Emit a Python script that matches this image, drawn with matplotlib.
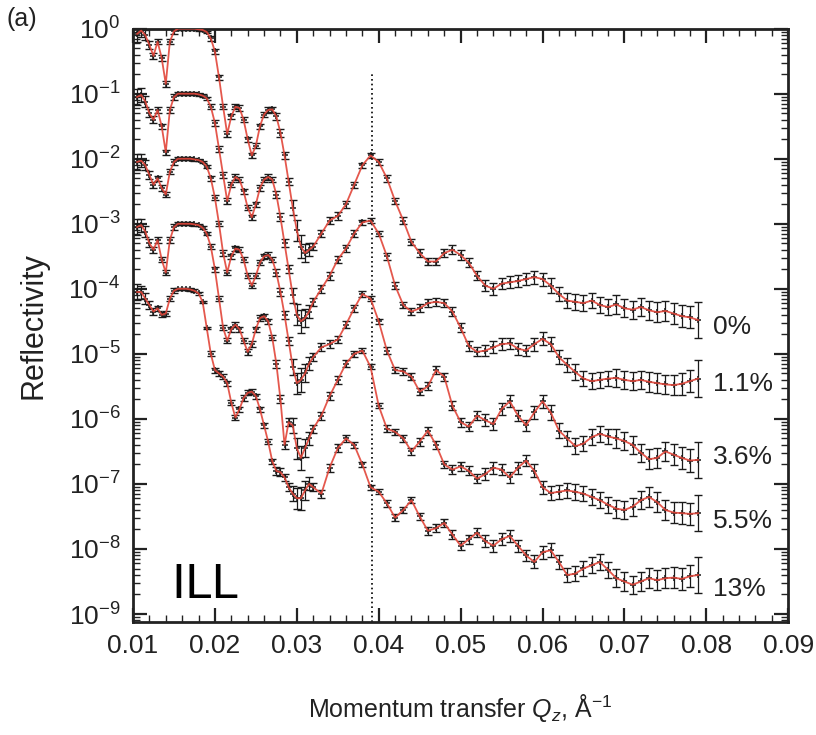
import numpy as np
import matplotlib
matplotlib.use('Agg')
import matplotlib.pyplot as plt
from matplotlib.ticker import LogLocator, MultipleLocator, NullFormatter

# measurement grid (Q_z, 1/Angstrom)
q_low = [0.0105, 0.0110, 0.0115, 0.0120, 0.0125, 0.0130, 0.0135, 0.0140, 0.0145, 0.0150,
         0.0155, 0.0160, 0.0165, 0.0170, 0.0175, 0.0180, 0.0185, 0.0190, 0.0195, 0.0200,
         0.0205, 0.0210, 0.0215, 0.0220, 0.0225, 0.0230, 0.0235, 0.0240, 0.0245, 0.0250,
         0.0255, 0.0260, 0.0265, 0.0270, 0.0275, 0.0280, 0.0285, 0.0290, 0.0295, 0.0300,
         0.0305, 0.0310, 0.0315]
q_high = [0.032, 0.033, 0.034, 0.035, 0.036, 0.037, 0.038, 0.039, 0.040, 0.041,
          0.042, 0.043, 0.044, 0.045, 0.046, 0.047, 0.048, 0.049, 0.050, 0.051,
          0.052, 0.053, 0.054, 0.055, 0.056, 0.057, 0.058, 0.059, 0.060, 0.061,
          0.062, 0.063, 0.064, 0.065, 0.066, 0.067, 0.068, 0.069, 0.070, 0.071,
          0.072, 0.073, 0.074, 0.075, 0.076, 0.077, 0.078, 0.079]

# log10(reflectivity), curves already offset by one decade each
logR_0 = [-0.08, -0.03, -0.10, -0.25, -0.42, -0.20, -0.45, -0.85, -0.20, -0.04,
          0.00, 0.00, 0.00, 0.00, 0.00, -0.01, -0.02, -0.05, -0.15, -0.35,
          -0.75, -1.20, -1.62, -1.35, -1.20, -1.22, -1.40, -1.70, -1.95, -1.80,
          -1.50, -1.32, -1.25, -1.24, -1.35, -1.60, -1.95, -2.35, -2.75, -3.10,
          -3.35, -3.45, -3.40,
          -3.35, -3.15, -2.95, -2.88, -2.70, -2.40, -2.10, -1.95, -2.05, -2.30,
          -2.65, -2.95, -3.28, -3.45, -3.58, -3.58, -3.45, -3.40, -3.48, -3.60,
          -3.80, -3.95, -4.00, -3.92, -3.90, -3.88, -3.85, -3.82, -3.85, -3.95,
          -4.08, -4.18, -4.20, -4.22, -4.18, -4.25, -4.28, -4.24, -4.30, -4.32,
          -4.28, -4.33, -4.36, -4.34, -4.38, -4.42, -4.44, -4.48]
logR_11 = [-1.05, -1.02, -1.12, -1.30, -1.40, -1.25, -1.50, -1.90, -1.25, -1.05,
           -1.00, -1.00, -1.00, -1.00, -1.00, -1.01, -1.03, -1.07, -1.20, -1.45,
           -1.85, -2.25, -2.65, -2.40, -2.28, -2.32, -2.50, -2.75, -2.90, -2.70,
           -2.45, -2.32, -2.28, -2.32, -2.55, -2.90, -3.30, -3.70, -4.10, -4.40,
           -4.50, -4.45, -4.35,
           -4.20, -4.00, -3.80, -3.55, -3.38, -3.15, -2.98, -2.95, -3.15, -3.50,
           -3.95, -4.25, -4.35, -4.30, -4.22, -4.20, -4.22, -4.35, -4.60, -4.88,
           -4.97, -4.95, -4.90, -4.85, -4.84, -4.92, -4.95, -4.85, -4.77, -4.85,
           -5.05, -5.17, -5.28, -5.38, -5.42, -5.40, -5.38, -5.37, -5.40, -5.42,
           -5.40, -5.43, -5.45, -5.47, -5.48, -5.46, -5.42, -5.38]
logR_36 = [-2.05, -2.03, -2.10, -2.25, -2.40, -2.30, -2.45, -2.55, -2.20, -2.05,
           -2.00, -2.00, -2.00, -2.00, -2.01, -2.02, -2.05, -2.12, -2.30, -2.60,
           -3.00, -3.45, -3.75, -3.50, -3.38, -3.40, -3.55, -3.80, -3.95, -3.80,
           -3.60, -3.50, -3.48, -3.55, -3.75, -4.05, -4.40, -4.80, -5.20, -5.45,
           -5.40, -5.30, -5.15,
           -5.05, -4.90, -4.85, -4.78, -4.55, -4.30, -4.08, -4.15, -4.50, -4.95,
           -5.25, -5.27, -5.35, -5.58, -5.50, -5.25, -5.35, -5.80, -6.05, -6.12,
           -5.95, -6.02, -6.08, -5.85, -5.73, -5.95, -6.10, -5.90, -5.73, -5.90,
           -6.18, -6.30, -6.42, -6.38, -6.28, -6.23, -6.27, -6.30, -6.34, -6.40,
           -6.52, -6.62, -6.60, -6.50, -6.55, -6.60, -6.64, -6.63]
logR_55 = [-3.05, -3.02, -3.12, -3.30, -3.40, -3.25, -3.55, -3.75, -3.25, -3.05,
           -3.00, -3.00, -3.00, -3.00, -3.01, -3.02, -3.06, -3.15, -3.35, -3.70,
           -4.15, -4.60, -4.80, -4.62, -4.55, -4.62, -4.80, -4.97, -4.85, -4.62,
           -4.45, -4.42, -4.50, -4.75, -5.15, -5.70, -6.40, -6.05, -6.10, -6.45,
           -6.60, -6.45, -6.30,
           -6.15, -5.95, -5.65, -5.40, -5.15, -5.00, -4.95, -5.20, -5.80, -6.15,
           -6.20, -6.30, -6.50, -6.35, -6.18, -6.40, -6.70, -6.78, -6.73, -6.80,
           -6.92, -6.85, -6.75, -6.78, -6.90, -6.75, -6.64, -6.80, -7.05, -7.14,
           -7.12, -7.10, -7.12, -7.15, -7.20, -7.25, -7.32, -7.38, -7.40, -7.35,
           -7.25, -7.20, -7.28, -7.40, -7.44, -7.45, -7.46, -7.45]
logR_13 = [-4.05, -4.05, -4.15, -4.25, -4.35, -4.30, -4.40, -4.38, -4.15, -4.03,
           -4.00, -4.00, -4.00, -4.01, -4.03, -4.07, -4.20, -4.60, -5.00, -5.25,
           -5.30, -5.35, -5.45, -5.75, -5.98, -5.85, -5.68, -5.60, -5.58, -5.65,
           -5.85, -6.10, -6.35, -6.65, -6.80, -6.82, -6.90, -7.05, -7.15, -7.22,
           -7.22, -7.10, -7.00,
           -7.05, -7.15, -6.75, -6.45, -6.30, -6.40, -6.70, -7.05, -7.12, -7.30,
           -7.52, -7.40, -7.25, -7.50, -7.72, -7.68, -7.60, -7.78, -7.95, -7.85,
           -7.75, -7.88, -7.95, -7.85, -7.80, -7.95, -8.10, -8.20, -8.05, -8.02,
           -8.20, -8.40, -8.38, -8.30, -8.25, -8.20, -8.32, -8.45, -8.50, -8.55,
           -8.50, -8.45, -8.48, -8.45, -8.44, -8.46, -8.42, -8.40]

# error bar half-length in decades
err_dec = [0.12, 0.10, 0.08, 0.06, 0.05, 0.04, 0.04, 0.04, 0.04, 0.04,
           0.02, 0.02, 0.02, 0.02, 0.02, 0.02, 0.02, 0.02, 0.04, 0.04,
           0.04, 0.04, 0.04, 0.04, 0.04, 0.04, 0.04, 0.04, 0.04, 0.04,
           0.04, 0.04, 0.04, 0.04, 0.06, 0.06, 0.06, 0.06, 0.12, 0.16,
           0.18, 0.14, 0.10,
           0.06, 0.06, 0.06, 0.06, 0.05, 0.05, 0.04, 0.04, 0.04, 0.05,
           0.05, 0.05, 0.05, 0.06, 0.06, 0.06, 0.06, 0.07, 0.07, 0.07,
           0.07, 0.09, 0.09, 0.09, 0.09, 0.09, 0.09, 0.10, 0.10, 0.11,
           0.11, 0.11, 0.12, 0.12, 0.12, 0.12, 0.12, 0.14, 0.14, 0.14,
           0.14, 0.15, 0.15, 0.15, 0.16, 0.17, 0.17, 0.28]

curves = [logR_0, logR_11, logR_36, logR_55, logR_13]
labels = ['0%', '1.1%', '3.6%', '5.5%', '13%']
label_logy = [-4.58, -5.47, -6.59, -7.57, -8.62]
q_dotted = 0.0392

plt.rcParams['font.family'] = ['Liberation Sans', 'DejaVu Sans']
plt.rcParams['mathtext.fontset'] = 'custom'
plt.rcParams['mathtext.rm'] = 'Liberation Sans'
plt.rcParams['mathtext.it'] = 'Liberation Sans:italic'

fig = plt.figure(figsize=(8.16, 7.35), dpi=100)
ax = fig.add_axes([0.163, 0.154, 0.803, 0.807])

q = np.array(q_low + q_high)
err = np.array(err_dec)
for logs in curves:
    R = 10.0 ** np.array(logs)
    lo = R - R * 10.0 ** (-err)
    hi = R * 10.0 ** err - R
    ax.errorbar(q, R, yerr=[lo, hi], fmt='none', ecolor='#1a1a1a',
                elinewidth=0.9, capsize=2.6, capthick=1.0, zorder=2)
    ax.plot(q, R, '+', color='#1a1a1a', ms=5, mew=1.1, zorder=2)
    ax.plot(q, R, color='#e2463a', lw=1.3, alpha=0.9, zorder=3)

for lab, ly in zip(labels, label_logy):
    ax.text(0.0808, 10 ** ly, lab, fontsize=19, ha='left', va='center', color='#222222')

ax.axvline(q_dotted, ymin=0, ymax=0.923, color='k', ls=(0, (1.0, 1.8)), lw=1.2, zorder=1)

ax.set_yscale('log')
ax.set_xlim(0.01, 0.09)
ax.set_ylim(10 ** -9.12, 1.0)
ax.set_xticks([0.01, 0.02, 0.03, 0.04, 0.05, 0.06, 0.07, 0.08, 0.09])
ax.set_xticklabels(['0.01', '0.02', '0.03', '0.04', '0.05', '0.06', '0.07', '0.08', '0.09'])
ax.xaxis.set_minor_locator(MultipleLocator(0.002))
ax.yaxis.set_major_locator(LogLocator(base=10, numticks=20))
ax.yaxis.set_minor_locator(LogLocator(base=10, subs=np.arange(2, 10), numticks=20))
ax.yaxis.set_minor_formatter(NullFormatter())
ax.xaxis.get_offset_text().set_visible(False)
ax.yaxis.get_offset_text().set_visible(False)

ax.tick_params(which='both', direction='in', top=True, right=True, colors='#222222')
ax.tick_params(which='major', length=10, width=1.6, labelsize=19, pad=9)
ax.tick_params(which='minor', length=5, width=1.0)
for s in ax.spines.values():
    s.set_linewidth(2.0)
    s.set_color('#222222')

ax.set_xlabel('Momentum transfer $Q_z$, Å$^{-1}$', fontsize=18, labelpad=24, color='#222222')
ax.set_ylabel('Reflectivity', fontsize=22, labelpad=14, color='#222222')

fig.text(0.008, 0.99, '(a)', fontsize=18, ha='left', va='top', color='#222222')
ax.text(0.0147, 10 ** -8.75, 'ILL', fontsize=34, family=['DejaVu Sans'], ha='left',
        va='baseline', color='k')

fig.savefig('out.png', dpi=100)
